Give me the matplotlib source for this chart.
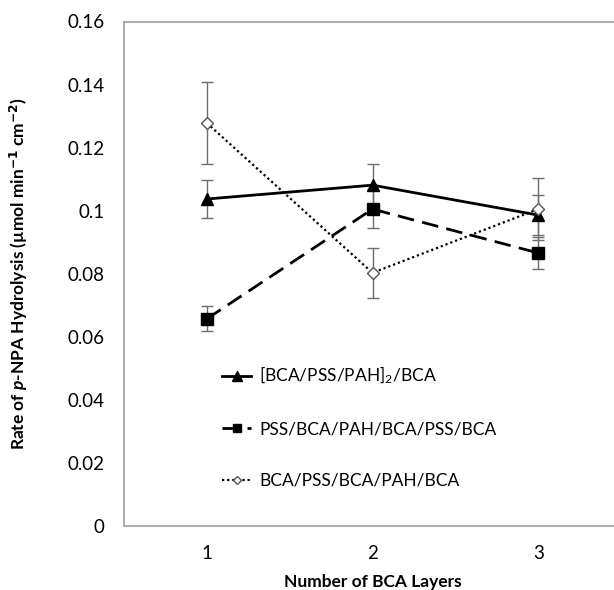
import numpy as np
import matplotlib
matplotlib.use("Agg")
import matplotlib.pyplot as plt
from matplotlib.lines import Line2D

plt.rcParams['font.family'] = ['Lato', 'DejaVu Sans']
plt.rcParams['mathtext.fontset'] = 'custom'
plt.rcParams['mathtext.it'] = 'Lato:bold:italic'
plt.rcParams['mathtext.rm'] = 'Lato'

# Data
layers = [1, 2, 3]
labels = ["[BCA/PSS/PAH]$\\mathregular{_2}$/BCA",
          "PSS/BCA/PAH/BCA/PSS/BCA",
          "BCA/PSS/BCA/PAH/BCA"]
rate_a = [0.1037, 0.1081, 0.0986]
err_a = [0.0060, 0.0067, 0.0064]
rate_b = [0.0657, 0.1005, 0.0866]
err_b = [0.0040, 0.0060, 0.0050]
rate_c = [0.1278, 0.0803, 0.1005]
err_c = [0.0130, 0.0080, 0.0099]
y_ticks = [0, 0.02, 0.04, 0.06, 0.08, 0.1, 0.12, 0.14, 0.16]
y_tick_labels = ["0", "0.02", "0.04", "0.06", "0.08", "0.1", "0.12", "0.14", "0.16"]

fig = plt.figure(figsize=(6.14, 5.90), dpi=100)
ax = fig.add_axes([124 / 614, 64 / 590, 497 / 614, 504.5 / 590])

ecol = '#6e6e6e'
styles = [
    dict(color='black', lw=2, ls='-', marker='^', ms=9),
    dict(color='black', lw=2, ls=(0, (6, 3)), marker='s', ms=8),
    dict(color='black', lw=1.6, ls=(0, (1, 1.3)), marker='D', ms=6, mfc='white', mec='#555555', mew=1),
]
for rate, err, st in zip([rate_a, rate_b, rate_c], [err_a, err_b, err_c], styles):
    ax.errorbar(layers, rate, yerr=err, ecolor=ecol, elinewidth=1, capsize=4, capthick=1, **st)

ax.set_xlim(0.5, 3.5)
ax.set_ylim(0, 0.16)
ax.set_xticks(layers)
ax.set_yticks(y_ticks)
ax.set_yticklabels(y_tick_labels)
ax.tick_params(length=0, labelsize=13.5, pad=14)
ax.tick_params(axis='x', pad=14)
for s in ax.spines.values():
    s.set_color('#a6a6a6')
    s.set_linewidth(1.3)

ax.set_xlabel("Number of BCA Layers", fontsize=12.5, fontweight='bold', labelpad=8)
ax.set_ylabel("Rate of $\\mathit{p}$-NPA Hydrolysis (\u00b5mol min$^{\\mathbf{-1}}$ cm$^{\\mathbf{-2}}$)",
              fontsize=12.5, fontweight='bold', labelpad=27)

# legend without error bars, smaller markers like the original
leg_styles = [dict(st, ms=st['ms'] - 2) for st in styles]
handles = [Line2D([], [], **st) for st in leg_styles]
ax.legend(handles, labels, loc='upper left', bbox_to_anchor=(0.197, 0.319), frameon=False,
          fontsize=12.5, handlelength=1.7, handletextpad=0.45, labelspacing=2.02,
          borderpad=0, borderaxespad=0)

fig.savefig("out.png", dpi=100)
